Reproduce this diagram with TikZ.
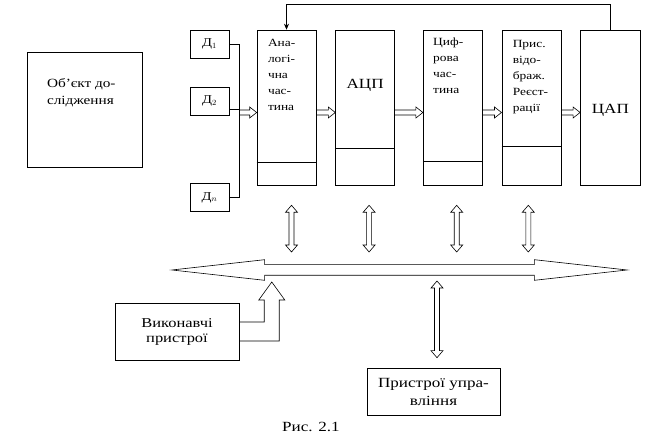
\documentclass[tikz,border=0pt]{standalone}
\usepackage{fontspec}
\setmainfont{Liberation Serif}[FakeStretch=1.22]
\usetikzlibrary{positioning,arrows.meta,shapes.arrows,calc}
\tikzset{
  caja/.style={rectangle, draw, inner sep=0pt},
  bloque/.style={caja, minimum width=59pt, minimum height=155pt},
  sensor/.style={caja, minimum width=39pt, minimum height=28pt, font=\fontsize{12}{14}\selectfont},
  etq/.style={inner sep=0pt, align=left, font=\fontsize{11}{16}\selectfont},
  etqg/.style={inner sep=0pt, font=\fontsize{14}{18}\selectfont},
  % hollow arrow, one head
  hueca/.style={to path={let \p1=(\tikztostart), \p2=(\tikztotarget), \n1={atan2(\y2-\y1,\x2-\x1)} in
    ([shift={(\n1+90:2.5pt)}]\p1) -- ([shift={(\n1:-7pt)}, shift={(\n1+90:2.5pt)}]\p2)
    -- ([shift={(\n1:-7pt)}, shift={(\n1+90:5.5pt)}]\p2) -- (\p2)
    -- ([shift={(\n1:-7pt)}, shift={(\n1-90:5.5pt)}]\p2) -- ([shift={(\n1:-7pt)}, shift={(\n1-90:2.5pt)}]\p2)
    -- ([shift={(\n1-90:2.5pt)}]\p1)}},
  % hollow arrow, two heads
  huecab/.style={to path={let \p1=(\tikztostart), \p2=(\tikztotarget), \n1={atan2(\y2-\y1,\x2-\x1)} in
    ([shift={(\n1:7pt)}, shift={(\n1+90:2.5pt)}]\p1) -- ([shift={(\n1:-7pt)}, shift={(\n1+90:2.5pt)}]\p2)
    -- ([shift={(\n1:-7pt)}, shift={(\n1+90:6pt)}]\p2) -- (\p2)
    -- ([shift={(\n1:-7pt)}, shift={(\n1-90:6pt)}]\p2) -- ([shift={(\n1:-7pt)}, shift={(\n1-90:2.5pt)}]\p2)
    -- ([shift={(\n1:7pt)}, shift={(\n1-90:2.5pt)}]\p1) -- ([shift={(\n1:7pt)}, shift={(\n1-90:6pt)}]\p1)
    -- (\p1) -- ([shift={(\n1:7pt)}, shift={(\n1+90:6pt)}]\p1) -- cycle}},
  flecha/.style={-{Stealth[length=6pt, width=5pt]}},
}
\begin{document}
\begin{tikzpicture}[x=1pt, y=1pt, line width=0.6pt, line join=miter, node distance=19pt]
  \useasboundingbox (0,0) rectangle (656,444);
  % objeto y sensores
  \node[caja, minimum width=115pt, minimum height=115pt] (obj) at (84.5,334.5) {};
  \node[etq, font=\fontsize{12.5}{17}\selectfont, below right=27pt and 20pt of obj.north west] (tobj) {Об'єкт до-\\слідження};
  \node[sensor] (d1) at (209.5,400) {Д$_1$};
  \node[sensor] (d2) at (209.5,343) {Д$_2$};
  \node[sensor] (dn) at (209.5,246.5) {Д$_n$};
  % bloques
  \node[bloque] (an) at (286.5,336.5) {};
  \node[bloque, right=of an] (adc) {};
  \node[bloque, right=28pt of adc] (dig) {};
  \node[bloque, right=of dig] (dsp) {};
  \node[bloque, minimum width=60pt, right=of dsp] (dac) {};
  \draw ([yshift=23pt]an.south west) -- ([yshift=23pt]an.south east);
  \draw ([yshift=37pt]adc.south west) -- ([yshift=37pt]adc.south east);
  \draw ([yshift=24pt]dig.south west) -- ([yshift=24pt]dig.south east);
  \draw ([yshift=39pt]dsp.south west) -- ([yshift=39pt]dsp.south east);
  \node[etq, below right=9pt and 11pt of an.north west] (tan) {Ана-\\логі-\\чна\\час-\\тина};
  \node[etqg, below=49pt of adc.north] (tadc) {АЦП};
  \node[etq, below right=8pt and 10pt of dig.north west] (tdig) {Циф-\\рова\\час-\\тина};
  \node[etq, below right=10pt and 11pt of dsp.north west] (tdsp) {Прис.\\відо-\\браж.\\Реєст-\\рації};
  \node[etqg, below=74pt of dac.north] (tdac) {ЦАП};
  % enlaces
  \draw (d1.east) -- ++(10,0) coordinate (b1) |- (dn.east);
  \draw ([yshift=-8pt]d2.east) -- ++(10,0);
  \coordinate (e1) at ([yshift=-5pt]an.west);
  \draw (b1 |- e1) to[hueca] (e1);
  \foreach \a/\b in {an/adc, adc/dig, dig/dsp, dsp/dac}
    \draw ([yshift=-5pt]\a.east) to[hueca] ([yshift=-5pt]\b.west);
  \draw[flecha] (dac.north) -- ++(0,25) -| (an.north);
  % bus
  \node[draw, double arrow, inner xsep=0pt, inner ysep=5pt, minimum height=455pt, minimum width=20pt,
    double arrow head extend=5pt, double arrow tip angle=12.7] (bus) at (399.5,174) {};
  \foreach \b/\dx in {an/5, adc/4, dig/4, dsp/-3}
    \draw ([xshift=\dx pt, yshift=-20pt]\b.south) to[huecab] ([xshift=\dx pt, yshift=18pt]\b.south |- bus.center);
  % dispositivos
  \node[caja, minimum width=124pt, minimum height=57pt, align=center, font=\fontsize{13.5}{15}\selectfont] (vyk) at (177,112.5) {Виконавчі\\пристрої};
  \node[caja, minimum width=133pt, minimum height=47pt, align=center, font=\fontsize{14}{18}\selectfont] (upr) at (433.5,52.5) {Пристрої упра-\\вління};
  \draw let \p1=(vyk.east), \p2=([xshift=102.5pt, yshift=-12pt]bus.west) in
    (\x1,\y1+9.5) -| (\x2-7.5,\y2-18) -- (\x2-13,\y2-18) -- (\p2) -- (\x2+13,\y2-18)
    -- (\x2+7.5,\y2-18) |- (\x1,\y1-9.5);
  \draw ([xshift=3.5pt, yshift=-11pt]upr.north |- bus.center) to[huecab] ([xshift=3.5pt, yshift=10pt]upr.north);
  \node[font=\fontsize{14}{16}\selectfont] (cap) at (311,17) {Рис. 2.1};
\end{tikzpicture}
\end{document}
